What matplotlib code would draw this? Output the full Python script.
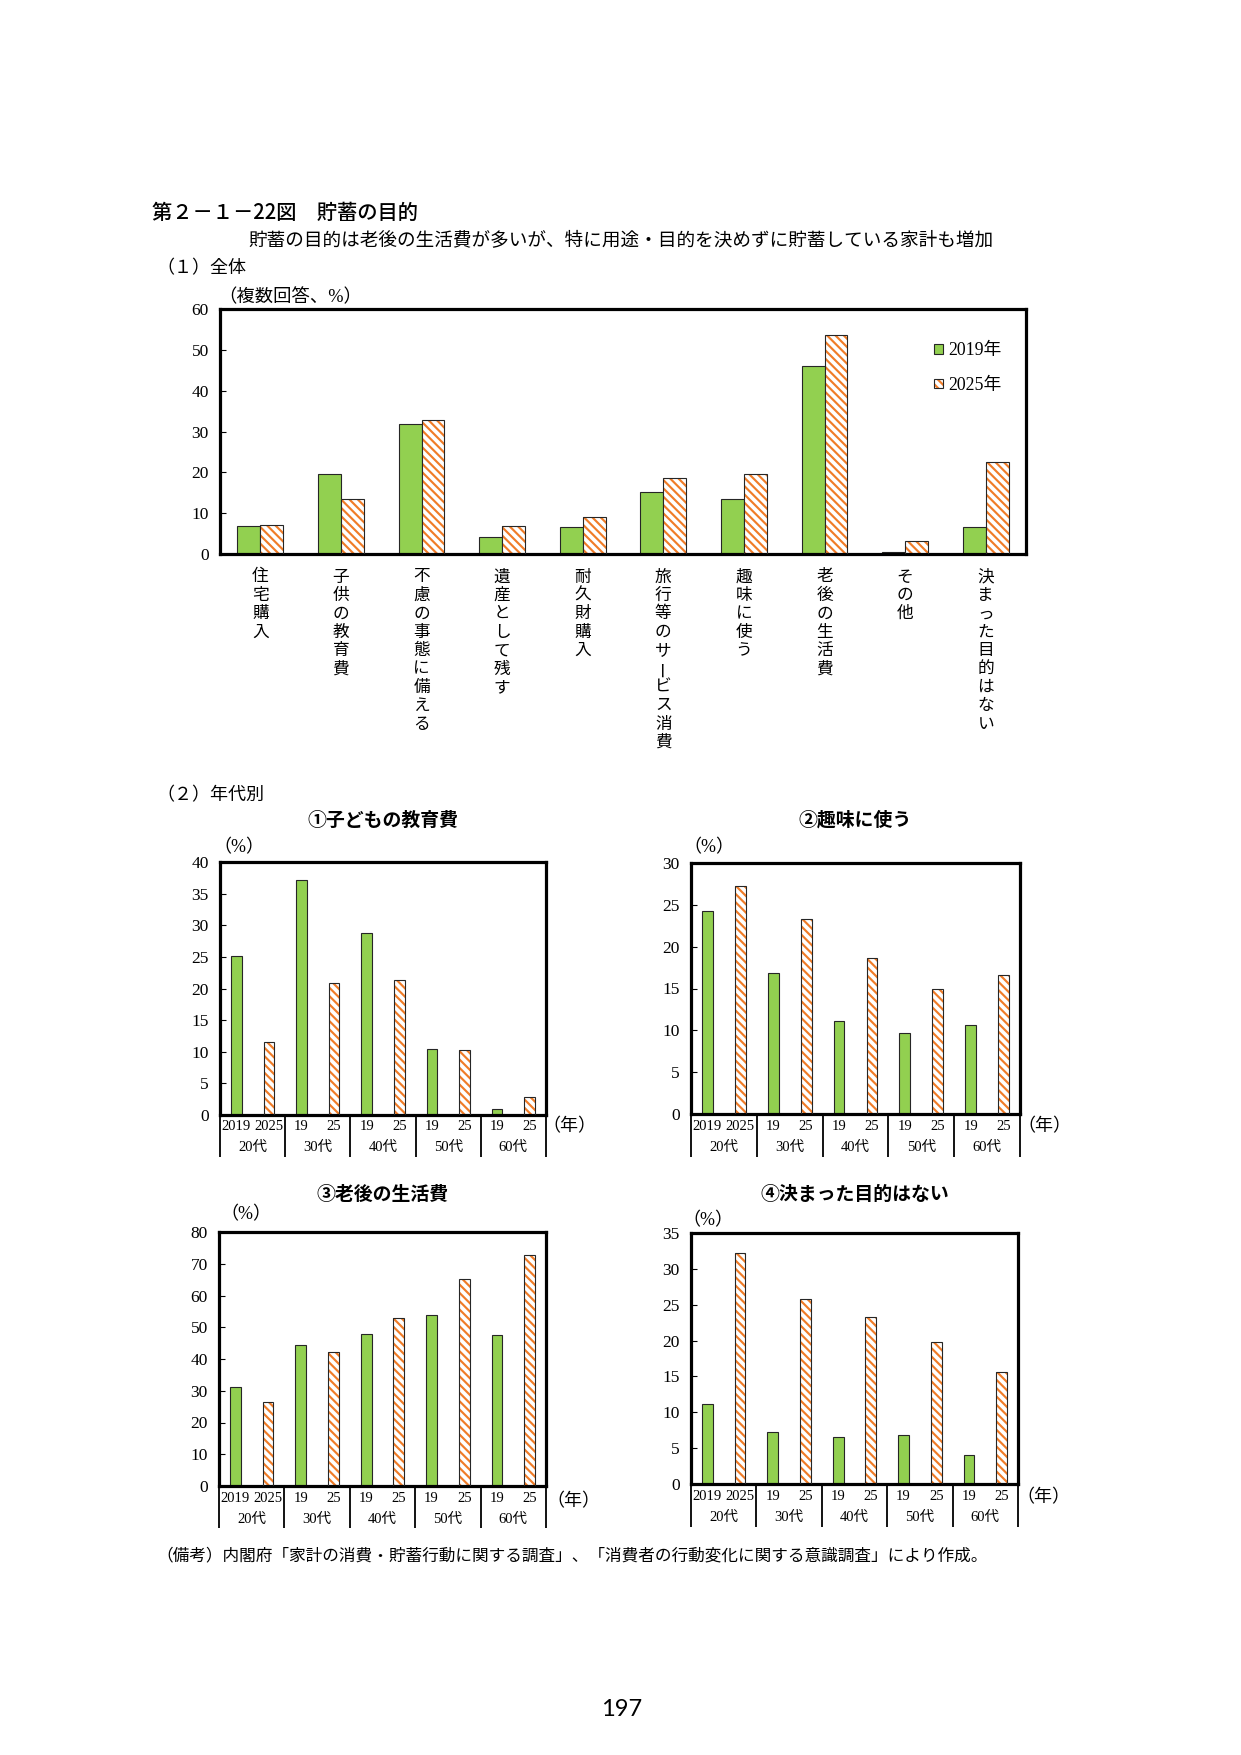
import matplotlib
matplotlib.use('Agg')
import matplotlib.pyplot as plt
import matplotlib.transforms as mtrans
from matplotlib.patches import Patch
import numpy as np

# ---------------- data ----------------
categories = ["住宅購入", "子供の教育費", "不慮の事態に備える", "遺産として残す", "耐久財購入",
              "旅行等のサービス消費", "趣味に使う", "老後の生活費", "その他", "決まった目的はない"]
all_2019 = [6.8, 19.5, 31.9, 4.1, 6.5, 15.1, 13.4, 46.1, 0.4, 6.5]
all_2025 = [7.2, 13.4, 32.7, 6.8, 9.0, 18.5, 19.5, 53.7, 3.3, 22.6]
series_labels = ["2019年", "2025年"]

age_groups = ["20代", "30代", "40代", "50代", "60代"]
year_ticks = ["2019", "2025", "19", "25", "19", "25", "19", "25", "19", "25"]

edu_2019 = [25.2, 37.2, 28.8, 10.5, 1.0]
edu_2025 = [11.6, 20.8, 21.4, 10.2, 2.8]
hobby_2019 = [24.3, 16.8, 11.1, 9.7, 10.6]
hobby_2025 = [27.2, 23.3, 18.6, 15.0, 16.6]
retire_2019 = [31.1, 44.3, 47.8, 53.8, 47.5]
retire_2025 = [26.6, 42.3, 52.8, 65.2, 72.9]
nopurpose_2019 = [11.2, 7.3, 6.5, 6.8, 4.0]
nopurpose_2025 = [32.2, 25.8, 23.3, 19.8, 15.6]

# ---------------- style ----------------
W, H = 1241, 1755
JP = ['Noto Sans CJK JP', 'DejaVu Sans']
SERIF = ['Liberation Serif', 'Noto Sans CJK JP']
plt.rcParams['font.family'] = JP
plt.rcParams['hatch.linewidth'] = 1.55

GREEN = '#92D050'
ORANGE = '#F07C28'
EDGE = '#262626'
HATCH = '\\\\\\\\'

fig = plt.figure(figsize=(W / 100, H / 100), dpi=100)


def fx(px):
    return px / W


def fy(py):
    return 1 - py / H


def add_axes_px(l, t, r, b):
    return fig.add_axes([l / W, 1 - b / H, (r - l) / W, (b - t) / H])


def style_frame(ax, ymax, ystep):
    for s in ax.spines.values():
        s.set_linewidth(2.3)
        s.set_color('black')
    ax.set_ylim(0, ymax)
    ticks = list(range(0, ymax + 1, ystep))
    ax.set_yticks(ticks, labels=[str(t) for t in ticks], fontfamily='Liberation Serif', fontsize=12.5)
    ax.tick_params(axis='y', direction='in', length=4, width=0.8, pad=8)
    ax.set_xticks([])


def green_bar(ax, x, h, w):
    ax.bar(x, h, w, color=GREEN, edgecolor=EDGE, linewidth=0.8, zorder=2)


def hatch_bar(ax, x, h, w):
    ax.bar(x, h, w, color='white', edgecolor=ORANGE, hatch=HATCH, linewidth=0, zorder=2)
    ax.bar(x, h, w, fill=False, edgecolor=EDGE, linewidth=0.8, zorder=3)


# ---------------- header texts ----------------
fig.text(fx(152), fy(213), "第２－１－22図　貯蓄の目的", fontsize=14.6, va='center', ha='left',
         fontweight='medium')
fig.text(fx(248), fy(241), "貯蓄の目的は老後の生活費が多いが、特に用途・目的を決めずに貯蓄している家計も増加",
         fontsize=13.4, va='center', ha='left')
fig.text(fx(156), fy(268), "（１）全体", fontsize=13, va='center', ha='left')

# ---------------- (1) overall chart ----------------
ax0 = add_axes_px(220, 309, 1026, 554)
x = np.arange(len(categories))
bw = 0.285
green_bar(ax0, x - bw / 2, all_2019, bw)
hatch_bar(ax0, x + bw / 2, all_2025, bw)
ax0.set_xlim(-0.5, len(categories) - 0.5)
style_frame(ax0, 60, 10)
fig.text(fx(218), fy(297), "（複数回答、%）", fontsize=13.2, va='center', ha='left', family=SERIF)

tr0 = mtrans.blended_transform_factory(ax0.transData, fig.transFigure)
for i, cat in enumerate(categories):
    for j, ch in enumerate(cat):
        ax0.text(i, fy(577 + 18.4 * j), ch, transform=tr0, ha='center', va='center',
                 fontsize=12, rotation=90 if ch == 'ー' else 0)

h1 = Patch(facecolor=GREEN, edgecolor=EDGE, linewidth=0.8)
h2a = Patch(facecolor='white', edgecolor=ORANGE, hatch=HATCH, linewidth=0)
h2b = Patch(fill=False, edgecolor=EDGE, linewidth=0.8)
ax0.legend([h1, (h2a, h2b)], series_labels, loc='upper left',
           bbox_to_anchor=(fx(934), fy(342)), bbox_transform=fig.transFigure,
           frameon=False, borderpad=0, borderaxespad=0, handlelength=0.48, handleheight=0.48,
           handletextpad=0.3, labelspacing=1.0, prop={'family': SERIF, 'size': 12.8})

# ---------------- (2) by age ----------------
fig.text(fx(156), fy(795), "（２）年代別", fontsize=13, va='center', ha='left')


def sub_chart(box, v19, v25, ymax, ystep, title, title_y, pct_xy, nen_xy, year_y, age_y, div_end):
    l, t, r, b = box
    ax = add_axes_px(l, t, r, b)
    n = len(v19)
    p19 = np.arange(n) * 2
    p25 = p19 + 1
    w = 0.33
    green_bar(ax, p19, v19, w)
    hatch_bar(ax, p25, v25, w)
    ax.set_xlim(-0.5, 2 * n - 0.5)
    style_frame(ax, ymax, ystep)
    tr = mtrans.blended_transform_factory(ax.transData, fig.transFigure)
    for k, lab in enumerate(year_ticks):
        ax.text(k, fy(year_y), lab, transform=tr, ha='center', va='center',
                fontsize=10.5, family='Liberation Serif')
    for g, lab in enumerate(age_groups):
        ax.text(2 * g + 0.5, fy(age_y), lab, transform=tr, ha='center', va='center',
                fontsize=10.5, family=SERIF)
    for xb in np.arange(-0.5, 2 * n, 2):
        ax.plot([xb, xb], [fy(b), fy(div_end)], transform=tr, color='black', lw=1.3,
                clip_on=False, solid_capstyle='butt')
    fig.text(fx((l + r) / 2), fy(title_y), title, ha='center', va='center', fontsize=13.6, fontweight='bold')
    fig.text(fx(pct_xy[0]), fy(pct_xy[1]), "（%）", ha='center', va='center', fontsize=13, family=SERIF)
    fig.text(fx(nen_xy[0]), fy(nen_xy[1]), "（年）", ha='center', va='center', fontsize=13, family=SERIF)
    return ax


sub_chart((220, 862, 546, 1115), edu_2019, edu_2025, 40, 5, "①子どもの教育費", 820,
          (239, 848), (569, 1127), 1127, 1147, 1157)
sub_chart((691, 863, 1020, 1114), hobby_2019, hobby_2025, 30, 5, "②趣味に使う", 820,
          (709, 848), (1044, 1127), 1127, 1147, 1157)
sub_chart((219, 1232, 546, 1486), retire_2019, retire_2025, 80, 10, "③老後の生活費", 1194,
          (246, 1215), (573, 1502), 1498, 1519, 1528)
sub_chart((691, 1233, 1018, 1484), nopurpose_2019, nopurpose_2025, 35, 5, "④決まった目的はない", 1194,
          (708, 1221), (1043, 1498), 1496, 1517, 1527)

# ---------------- footer ----------------
fig.text(fx(156), fy(1556), "（備考）内閣府「家計の消費・貯蓄行動に関する調査」、「消費者の行動変化に関する意識調査」により作成。",
         fontsize=12, va='center', ha='left')
fig.text(fx(622), fy(1709), "197", fontsize=17, va='center', ha='center', family='Lato')

fig.savefig('out.png', dpi=100)
